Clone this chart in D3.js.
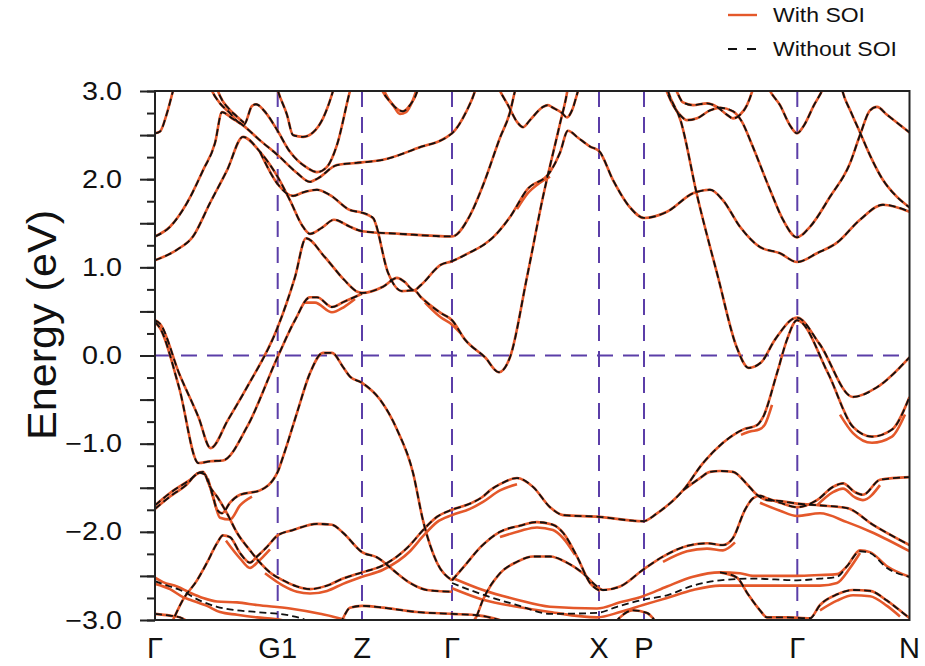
<!DOCTYPE html>
<html>
<head>
<meta charset="utf-8">
<title>Band structure with and without SOI</title>
<script src="https://d3js.org/d3.v7.min.js"></script>
<style>
  body { margin: 0; background: #fff; }
  text { font-family: "Liberation Sans", Arial, Helvetica, sans-serif; fill: #111; }
</style>
</head>
<body>
<script>

// k-path: high symmetry points and their labels
var kTicks = [0, 1.227, 2.07, 2.97, 4.44, 4.89, 6.423, 7.545];
var kLabels = ["Γ", "G1", "Z", "Γ", "X", "P", "Γ", "N"];
var eTickLabels = [-3, -2, -1, 0, 1, 2, 3];
var legendLabels = ["With SOI", "Without SOI"];

// bands, [k, energy in eV]; drawn both with SOI (solid) and without SOI (dashed)
var bandA = [[0,2.52],[0.05,2.54],[0.12,2.75],[0.18,3.0],[0.21,3.12]];
var bandB = [[0,1.35],[0.15,1.46],[0.32,1.73],[0.48,2.10],[0.60,2.41],[0.67,2.76],[0.77,2.69],[0.88,2.61],[1.05,2.44],[1.23,2.27],[1.42,2.07],[1.55,1.97],[1.63,2.01],[1.82,2.16],[2.07,2.19],[2.28,2.22],[2.62,2.35],[2.97,2.52],[3.11,2.76],[3.20,3.0],[3.23,3.12]];
var bandT3 = [[0.54,3.08],[0.57,3.0],[0.65,2.86],[0.75,2.75],[0.83,2.65],[0.89,2.62],[0.97,2.83],[1.01,2.85],[1.11,2.75],[1.22,2.56],[1.35,2.31],[1.52,2.13],[1.62,2.08],[1.72,2.14],[1.82,2.39],[1.95,3.0],[1.98,3.12]];
var bandT6 = [[0.61,3.08],[0.63,3.0],[0.67,2.90],[0.73,2.81],[0.81,2.72],[0.89,2.64]];
var bandT4 = [[1.20,3.12],[1.23,3.0],[1.32,2.73],[1.38,2.50],[1.48,2.48],[1.58,2.53],[1.68,2.69],[1.78,3.0],[1.81,3.12]];
var bandT5 = [[2.25,3.07],[2.28,2.99],[2.35,2.88],[2.43,2.79],[2.48,2.77],[2.55,2.84],[2.62,2.99],[2.64,3.07]];
var bandC = [[0,1.08],[0.22,1.20],[0.38,1.35],[0.55,1.73],[0.72,2.10],[0.88,2.48],[1.05,2.31],[1.23,2.02],[1.35,1.76],[1.48,1.46],[1.55,1.38],[1.67,1.45],[1.79,1.54],[1.95,1.46],[2.07,1.41],[2.45,1.38],[2.97,1.35],[3.15,1.59],[3.28,1.93],[3.45,2.47],[3.55,2.76],[3.60,3.0],[3.63,3.12]];
var bandD = [[1.05,2.31],[1.23,1.94],[1.38,1.81],[1.48,1.85],[1.62,1.88],[1.75,1.82],[1.95,1.65],[2.07,1.62],[2.18,1.56],[2.33,0.94],[2.47,0.73],[2.59,0.74],[2.66,0.66],[2.86,0.48],[2.97,0.40],[3.10,0.18],[3.30,-0.02],[3.44,-0.19],[3.55,-0.02],[3.72,0.89],[3.88,1.80],[4.05,2.63],[4.12,2.98],[4.14,3.12]];
var bandS1 = [[0,0.40],[0.05,0.36],[0.24,-0.20],[0.435,-0.70],[0.556,-1.05],[0.73,-0.73],[0.92,-0.36],[1.227,0.32],[1.40,0.89],[1.51,1.33],[1.695,1.12],[1.89,0.86],[2.03,0.72],[2.07,0.71],[2.28,0.78],[2.42,0.88],[2.49,0.84],[2.59,0.74],[2.66,0.80],[2.86,1.03],[2.97,1.07],[3.15,1.17],[3.28,1.25],[3.38,1.34],[3.55,1.57],[3.72,1.88],[3.95,2.08],[4.05,2.30],[4.13,2.55],[4.23,2.47],[4.35,2.37],[4.44,2.32],[4.58,1.99],[4.75,1.68],[4.89,1.56],[5.12,1.63],[5.38,1.84],[5.55,1.88],[5.68,1.76],[5.85,1.46],[6.05,1.23],[6.25,1.16],[6.42,1.06],[6.62,1.16],[6.82,1.28],[7.05,1.54],[7.28,1.71],[7.545,1.63]];
var bandS2 = [[0,0.38],[0.05,0.31],[0.24,-0.36],[0.435,-1.22],[0.55,-1.20],[0.68,-1.19],[0.92,-0.81],[1.225,-0.02],[1.40,0.40],[1.55,0.66],[1.62,0.66],[1.77,0.55],[1.89,0.61],[2.07,0.70]];
var bandE = [[5.10,3.12],[5.13,3.0],[5.26,2.65],[5.42,1.82],[5.63,0.89],[5.815,0.10],[5.936,-0.14],[6.06,-0.08],[6.20,0.18],[6.42,0.43],[6.64,0.14],[6.98,-0.47],[7.22,-0.36],[7.545,-0.02]];
var bandM = [[0,-1.74],[0.15,-1.60],[0.32,-1.46],[0.42,-1.34],[0.48,-1.32],[0.55,-1.49],[0.62,-1.60],[0.72,-1.79],[0.82,-2.01],[0.95,-2.21],[1.05,-2.35],[1.15,-2.46],[1.28,-2.55],[1.42,-2.62],[1.55,-2.65],[1.72,-2.61],[1.88,-2.53],[2.07,-2.46],[2.28,-2.38],[2.55,-2.15],[2.68,-1.98],[2.82,-1.83],[2.97,-1.75],[3.15,-1.68],[3.28,-1.60],[3.35,-1.53],[3.45,-1.46],[3.62,-1.39],[3.78,-1.49],[3.95,-1.72],[4.08,-1.81],[4.44,-1.83],[4.88,-1.88],[5.02,-1.79],[5.28,-1.53],[5.48,-1.22],[5.68,-0.99],[5.88,-0.84],[6.02,-0.79],[6.08,-0.70],[6.22,-0.20],[6.32,0.18],[6.42,0.40],[6.73,-0.20],[6.98,-0.81],[7.17,-0.92],[7.37,-0.84],[7.545,-0.47]];
var bandL = [[0,-1.70],[0.15,-1.56],[0.35,-1.41],[0.45,-1.33],[0.50,-1.35],[0.58,-1.60],[0.62,-1.75],[0.67,-1.79],[0.75,-1.67],[0.85,-1.58],[1.05,-1.53],[1.227,-1.32],[1.28,-1.15],[1.42,-0.65],[1.55,-0.20],[1.68,0.03],[1.77,0.03],[1.88,-0.13],[1.95,-0.24],[2.07,-0.31],[2.25,-0.50],[2.42,-0.84],[2.58,-1.33],[2.68,-1.87],[2.82,-2.35],[2.97,-2.55]];
var bandW = [[0.15,-3.07],[0.18,-3.0],[0.28,-2.77],[0.42,-2.55],[0.52,-2.35],[0.62,-2.13],[0.68,-2.04],[0.75,-2.06],[0.85,-2.24],[0.95,-2.35],[1.02,-2.28],[1.12,-2.17],[1.227,-2.04],[1.38,-1.98],[1.62,-1.91],[1.77,-1.92],[1.88,-2.01],[2.07,-2.23],[2.22,-2.29],[2.42,-2.47],[2.55,-2.58],[2.72,-2.66],[2.97,-2.68]];
var bandQ = [[2.97,-2.55],[3.10,-2.38],[3.25,-2.18],[3.45,-2.00],[3.65,-1.93],[3.82,-1.89],[3.98,-1.92],[4.08,-2.01],[4.22,-2.28],[4.35,-2.58],[4.45,-2.67]];
var bandJ = [[3.15,-3.06],[3.21,-2.97],[3.28,-2.77],[3.45,-2.47],[3.62,-2.34],[3.78,-2.28],[3.95,-2.28],[4.12,-2.35],[4.28,-2.47],[4.42,-2.62],[4.48,-2.66],[4.65,-2.62],[4.88,-2.43],[5.08,-2.28],[5.32,-2.16],[5.52,-2.13],[5.68,-2.15],[5.78,-2.07],[5.90,-1.75],[5.98,-1.62],[6.05,-1.59],[6.12,-1.62],[6.25,-1.67],[6.42,-1.72],[6.62,-1.64],[6.78,-1.49],[6.88,-1.45],[7.00,-1.55],[7.08,-1.58],[7.25,-1.41],[7.545,-1.38]];
var bandK = [[5.28,-1.53],[5.45,-1.39],[5.55,-1.32],[5.65,-1.31],[5.78,-1.32],[5.92,-1.46],[6.02,-1.58],[6.12,-1.64],[6.25,-1.65],[6.42,-1.68],[6.65,-1.70],[6.92,-1.73],[7.18,-1.92],[7.545,-2.15]];
var bandR = [[5.65,-2.46],[5.82,-2.52],[5.92,-2.69],[6.05,-2.89],[6.12,-2.97],[6.32,-2.97],[6.55,-2.98],[6.65,-2.83],[6.82,-2.71],[6.98,-2.66],[7.15,-2.67],[7.32,-2.78],[7.48,-2.92],[7.57,-3.0]];
var bandS = [[4.60,-3.03],[4.65,-2.97],[4.78,-2.89],[4.92,-2.92],[4.98,-2.98],[5.01,-3.03]];
var bandV = [[0,-2.93],[0.15,-2.95],[0.25,-2.97],[0.35,-3.03]];
var bandV2 = [[1.85,-3.05],[1.88,-2.98],[1.95,-2.86],[2.07,-2.84],[2.28,-2.86],[2.48,-2.89],[2.62,-2.91],[2.97,-2.93],[3.25,-2.95],[3.45,-3.0]];
var bandW3 = [[3.42,3.07],[3.45,3.0],[3.53,2.84],[3.62,2.65],[3.68,2.59],[3.75,2.67],[3.88,2.82],[3.93,2.84],[3.98,2.81],[4.07,2.75],[4.12,2.70],[4.17,2.78],[4.23,3.0],[4.25,3.07]];
var bandG = [[5.09,3.07],[5.12,2.99],[5.18,2.84],[5.25,2.73],[5.32,2.67],[5.42,2.69],[5.55,2.78],[5.65,2.81],[5.78,2.77],[5.87,2.65],[5.97,2.39],[6.15,1.88],[6.28,1.54],[6.42,1.34],[6.55,1.46],[6.75,1.80],[6.95,2.18],[7.05,2.50],[7.15,2.78],[7.22,2.82],[7.32,2.73],[7.545,2.53]];
var bandW2 = [[5.19,3.07],[5.22,2.99],[5.28,2.87],[5.38,2.84],[5.52,2.86],[5.62,2.82],[5.72,2.73],[5.78,2.69],[5.85,2.73],[5.92,2.84],[5.97,2.99],[5.99,3.07]];
var bandV1 = [[6.12,3.07],[6.15,3.0],[6.25,2.84],[6.35,2.61],[6.42,2.52],[6.49,2.61],[6.59,2.84],[6.67,3.0],[6.70,3.07]];
var bandH = [[6.85,3.12],[6.88,2.98],[6.96,2.76],[7.05,2.53],[7.15,2.27],[7.28,1.99],[7.41,1.81],[7.545,1.68]];

// without SOI only (dashed) where the SOI bands split apart
var noSoiU = [[0,-2.56],[0.15,-2.62],[0.25,-2.66],[0.45,-2.78],[0.62,-2.85],[0.82,-2.89],[1.02,-2.91],[1.35,-2.95],[1.50,-3.0],[1.57,-3.05]];
var noSoiT = [[2.97,-2.58],[3.15,-2.66],[3.38,-2.75],[3.62,-2.83],[3.95,-2.93],[4.42,-2.92],[4.62,-2.85],[4.88,-2.77],[5.12,-2.72],[5.38,-2.61],[5.65,-2.55],[5.98,-2.53],[6.42,-2.55],[6.65,-2.53],[6.82,-2.51],[6.92,-2.39],[7.05,-2.22],[7.15,-2.24],[7.32,-2.41],[7.545,-2.51]];

// with SOI only (solid): split partners
var soiUup = [[0,-2.52],[0.08,-2.57],[0.22,-2.62],[0.35,-2.69],[0.48,-2.75],[0.62,-2.79],[0.82,-2.80],[1.02,-2.83],[1.35,-2.87],[1.65,-2.93],[1.90,-3.0],[1.95,-3.02]];
var soiUlo = [[0,-2.59],[0.15,-2.65],[0.28,-2.74],[0.35,-2.77],[0.52,-2.84],[0.65,-2.91],[0.82,-2.94],[1.02,-2.97],[1.20,-2.99],[1.35,-3.02]];
var soiTup = [[2.97,-2.52],[3.28,-2.66],[3.62,-2.77],[3.95,-2.85],[4.42,-2.87],[4.65,-2.80],[4.88,-2.73],[5.12,-2.62],[5.38,-2.51],[5.65,-2.46],[5.85,-2.47],[5.98,-2.50],[6.42,-2.50],[6.65,-2.49],[6.82,-2.48],[6.92,-2.39],[7.05,-2.21],[7.15,-2.23],[7.32,-2.39],[7.545,-2.51]];
var soiTlo = [[2.97,-2.64],[3.28,-2.77],[3.62,-2.85],[3.95,-2.91],[4.42,-2.97],[4.65,-2.91],[4.88,-2.83],[5.12,-2.75],[5.38,-2.66],[5.65,-2.61],[5.98,-2.61],[6.42,-2.61],[6.65,-2.61],[6.82,-2.58],[6.95,-2.41],[7.05,-2.24]];
var soiT5 = [[2.27,3.07],[2.31,2.96],[2.38,2.84],[2.45,2.74],[2.51,2.76],[2.58,2.90],[2.63,3.07]];
var soiS2 = [[1.50,0.60],[1.60,0.60],[1.77,0.49],[1.89,0.55],[2.00,0.64]];
var soiL = [[0.53,-1.40],[0.59,-1.64],[0.65,-1.84],[0.75,-1.86],[0.85,-1.70],[0.97,-1.60]];
var soiM1 = [[1.10,-2.47],[1.28,-2.61],[1.42,-2.68],[1.55,-2.70],[1.72,-2.67],[1.88,-2.59],[2.07,-2.51],[2.28,-2.43],[2.55,-2.22],[2.68,-2.05],[2.82,-1.89],[2.97,-1.81],[3.15,-1.74],[3.28,-1.66],[3.45,-1.53],[3.62,-1.46]];
var soiM2 = [[5.86,-0.90],[5.96,-0.86],[6.04,-0.84],[6.10,-0.78],[6.17,-0.56]];
var soiM3 = [[6.85,-0.67],[6.98,-0.88],[7.17,-0.99],[7.37,-0.92],[7.50,-0.67]];
var soiW = [[0.71,-2.10],[0.85,-2.30],[0.95,-2.41],[1.03,-2.34],[1.15,-2.20]];
var soiQ = [[3.45,-2.06],[3.65,-1.99],[3.82,-1.95],[3.98,-1.98],[4.08,-2.07],[4.20,-2.26]];
var soiJ1 = [[5.08,-2.34],[5.32,-2.22],[5.52,-2.19],[5.68,-2.21],[5.80,-2.12]];
var soiJ2 = [[6.62,-1.70],[6.78,-1.55],[6.88,-1.51],[7.00,-1.61],[7.08,-1.64],[7.25,-1.47]];
var soiK = [[6.05,-1.67],[6.25,-1.76],[6.42,-1.82],[6.65,-1.79],[6.92,-1.89],[7.18,-2.01],[7.545,-2.22]];
var soiR = [[6.65,-2.89],[6.82,-2.78],[6.98,-2.72],[7.15,-2.73],[7.32,-2.84],[7.45,-2.96]];
var soiS1 = [[3.62,1.66],[3.72,1.83],[3.85,1.96],[3.95,2.03]];
var soiD = [[2.70,0.60],[2.86,0.43],[2.97,0.35],[3.05,0.26]];

var bandsBoth = [bandA, bandB, bandT3, bandT6, bandT4, bandT5, bandC, bandD, bandS1, bandS2, bandE,
                 bandM, bandL, bandW, bandQ, bandJ, bandK, bandR, bandS, bandV, bandV2,
                 bandW3, bandG, bandW2, bandV1, bandH];
var bandsNoSoiOnly = [noSoiU, noSoiT];
var bandsSoiOnly = [soiUup, soiUlo, soiTup, soiTlo, soiT5, soiS2, soiL, soiM1, soiM2, soiM3,
                    soiW, soiQ, soiJ1, soiJ2, soiK, soiR, soiS1, soiD];

var orange = "#e4582a";
var purple = "#5b3ea8";
var stretch = 1.15;   // glyphs in the picture are a bit wider than tall

var width = 925, height = 666;
var pLeft = 155, pRight = 909.5, pTop = 91, pBottom = 620;

var x = d3.scaleLinear().domain([0, 7.545]).range([pLeft, pRight]);
var y = d3.scaleLinear().domain([-3, 3]).range([pBottom, pTop]);

var svg = d3.select("body").append("svg")
    .attr("width", width)
    .attr("height", height);

svg.append("defs").append("clipPath").attr("id", "plotclip")
  .append("rect")
    .attr("x", pLeft).attr("y", pTop)
    .attr("width", pRight - pLeft).attr("height", pBottom - pTop);

// guide lines at high symmetry points and at the Fermi level
var guides = svg.append("g").attr("stroke", purple).attr("stroke-width", 2)
    .attr("stroke-dasharray", "16,10").attr("fill", "none");
guides.selectAll("line.v")
    .data(kTicks.slice(1, -1))
    .enter().append("line")
    .attr("class", "v")
    .attr("x1", function (d) { return x(d); })
    .attr("x2", function (d) { return x(d); })
    .attr("y1", pTop).attr("y2", pBottom);
guides.append("line")
    .attr("x1", pLeft).attr("x2", pRight)
    .attr("y1", y(0)).attr("y2", y(0));

var line = d3.line()
    .x(function (d) { return x(d[0]); })
    .y(function (d) { return y(d[1]); })
    .curve(d3.curveMonotoneX);

var plot = svg.append("g").attr("clip-path", "url(#plotclip)");

// with SOI: solid orange
plot.append("g").selectAll("path")
    .data(bandsBoth.concat(bandsSoiOnly))
    .enter().append("path")
    .attr("d", line)
    .attr("fill", "none")
    .attr("stroke", orange)
    .attr("stroke-width", 2.6);

// without SOI: dashed black
plot.append("g").selectAll("path")
    .data(bandsBoth.concat(bandsNoSoiOnly))
    .enter().append("path")
    .attr("d", line)
    .attr("fill", "none")
    .attr("stroke", "#111")
    .attr("stroke-width", 1.8)
    .attr("stroke-dasharray", "7,4");

// frame
svg.append("rect")
    .attr("x", pLeft).attr("y", pTop)
    .attr("width", pRight - pLeft).attr("height", pBottom - pTop)
    .attr("fill", "none")
    .attr("stroke", "#222")
    .attr("stroke-width", 2);

function widen(sel, f) {
  sel.each(function () {
    var w = this.getComputedTextLength();
    d3.select(this).attr("textLength", w * f).attr("lengthAdjust", "spacingAndGlyphs");
  });
}

// y axis: minor ticks every 0.25, major every 0.5, labels every 1.0
var fmt = d3.format(".1f");
var yMinor = d3.axisLeft(y).tickValues(d3.range(-3, 3.001, 0.25)).tickSize(8).tickFormat("");
var yMajor = d3.axisLeft(y).tickValues(d3.range(-3, 3.001, 0.5)).tickSize(15).tickPadding(18)
    .tickFormat(function (d) { return eTickLabels.indexOf(d) >= 0 ? fmt(d) : ""; });

var gMinor = svg.append("g").attr("transform", "translate(" + pLeft + ",0)").call(yMinor);
var gMajor = svg.append("g").attr("transform", "translate(" + pLeft + ",0)").call(yMajor);
[gMinor, gMajor].forEach(function (g) {
  g.select(".domain").remove();
  g.selectAll(".tick line").attr("stroke", "#222").attr("stroke-width", 2);
});
gMajor.selectAll(".tick text")
    .attr("font-size", 25)
    .attr("font-family", "Liberation Sans, Arial, sans-serif")
    .attr("fill", "#111")
    .call(widen, stretch);

// k-point labels
svg.append("g").selectAll("text")
    .data(kTicks)
    .enter().append("text")
    .attr("x", function (d) { return x(d); })
    .attr("y", 658)
    .attr("text-anchor", "middle")
    .attr("font-size", 29)
    .text(function (d, i) { return kLabels[i]; })
    .call(widen, 1.0);

// y label
svg.append("text")
    .attr("transform", "translate(56,325) rotate(-90)")
    .attr("text-anchor", "middle")
    .attr("font-size", 40)
    .attr("textLength", 230)
    .attr("lengthAdjust", "spacingAndGlyphs")
    .text("Energy (eV)");

// legend
var legend = svg.append("g");
legend.append("line")
    .attr("x1", 728).attr("x2", 757).attr("y1", 15).attr("y2", 15)
    .attr("stroke", orange).attr("stroke-width", 2.4);
legend.append("line")
    .attr("x1", 728).attr("x2", 757).attr("y1", 49).attr("y2", 49)
    .attr("stroke", "#111").attr("stroke-width", 2)
    .attr("stroke-dasharray", "9,10");
legend.selectAll("text")
    .data(legendLabels)
    .enter().append("text")
    .attr("x", 773)
    .attr("y", function (d, i) { return 22 + i * 34; })
    .attr("font-size", 20)
    .text(function (d) { return d; })
    .call(widen, stretch);

</script>
</body>
</html>
